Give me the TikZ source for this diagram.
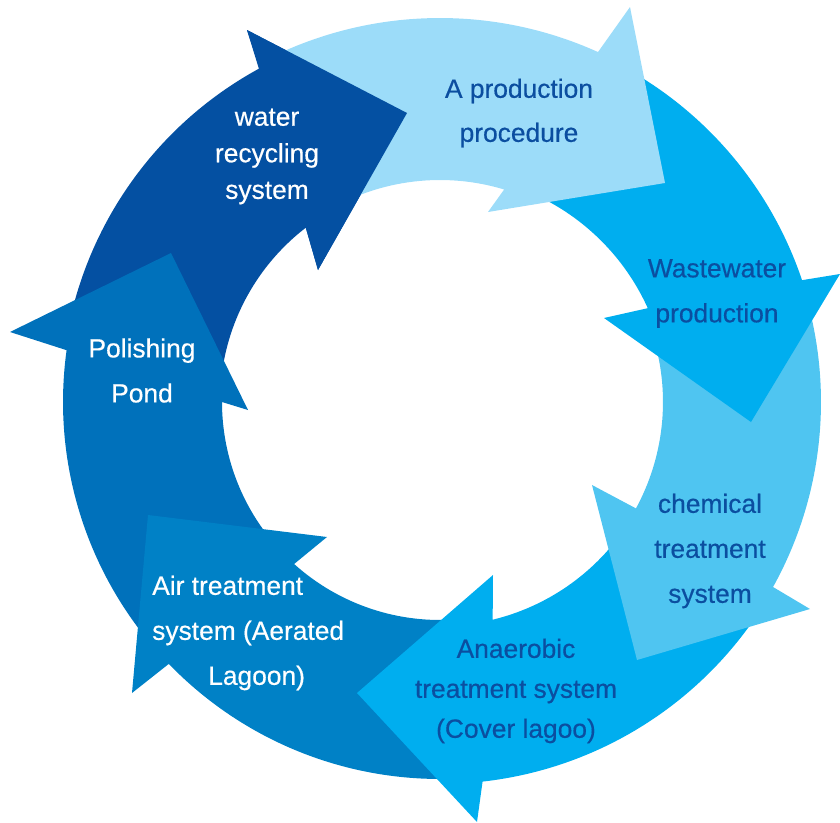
\documentclass[tikz,border=0pt]{standalone}
\usepackage{fontspec}
\setmainfont{Liberation Sans}
\newfontfamily\lblfont[FakeBold=0.45]{Liberation Sans}
\usetikzlibrary{calc}
\definecolor{cL}{HTML}{9CDCF9}
\definecolor{cW}{HTML}{00AEEF}
\definecolor{cC}{HTML}{4FC5F1}
\definecolor{cA}{HTML}{00AEEF}
\definecolor{cR}{HTML}{0081C6}
\definecolor{cP}{HTML}{0071BB}
\definecolor{cD}{HTML}{0450A2}
\definecolor{txtblue}{HTML}{0B4EA0}
\begin{document}
\begin{tikzpicture}[x=0.3mm,y=-0.3mm,
  lbl/.style={align=center, inner sep=0pt},
  darktxt/.style={lbl, text=txtblue},
  whitetxt/.style={lbl, text=white}]
\useasboundingbox (0,0) rectangle (840,823);
\coordinate (O) at (440,402);
% water recycling system (dark)
\fill[cD] ($(O)+(190.95:379)$) arc[start angle=190.95, end angle=241.5, radius=380]
  -- (247,30) -- (407,113) -- (318,270)
  -- ($(O)+(232.4:220)$) arc[start angle=232.4, end angle=188.5, radius=220] -- cycle;
% polishing pond
\fill[cP] ($(O)+(139.5:377)$) arc[start angle=139.5, end angle=187.9, radius=377]
  -- (10,332) -- (171,253) -- (248,410)
  -- ($(O)+(180:218)$) arc[start angle=180, end angle=136.2, radius=218] -- cycle;
% air treatment
\fill[cR] ($(O)+(86.2:377)$) arc[start angle=86.2, end angle=136, radius=377]
  -- (132,693) -- (148,515) -- (327,537)
  -- ($(O)+(132:218)$) arc[start angle=132, end angle=84.8, radius=218] -- cycle;
% anaerobic
\fill[cA] ($(O)+(30.3:382)$) arc[start angle=30.3, end angle=83.6, radius=382]
  -- (477,822) -- (357,693) -- (493,575)
  -- ($(O)+(76.4:224)$) arc[start angle=76.4, end angle=34.7, radius=224] -- cycle;
% chemical
\fill[cC] ($(O)+(-15.8:381)$) arc[start angle=-15.8, end angle=29.05, radius=381]
  -- (810,609) -- (637,660) -- (592,485)
  -- ($(O)+(28.5:223)$) arc[start angle=28.5, end angle=-16.1, radius=223] -- cycle;
% wastewater
\fill[cW] ($(O)+(-62.2:382)$) arc[start angle=-62.2, end angle=-18.6, radius=382]
  -- (840,274) -- (751,422) -- (604,318)
  -- ($(O)+(-24.3:228)$) arc[start angle=-24.3, end angle=-66, radius=228] -- cycle;
% production procedure (light)
\fill[cL] ($(O)+(-117.1:384)$) arc[start angle=-117.1, end angle=-65.7, radius=384]
  -- (630,7) -- (665,183) -- (488,212)
  -- ($(O)+(-73.2:222)$) arc[start angle=-73.2, end angle=-120.5, radius=222] -- cycle;
% head of water recycling over light tail
\fill[cD] ($(O)+(241.5:380)$) -- (247,30) -- (407,113) -- (318,270) -- ($(O)+(232.4:220)$) -- cycle;
% labels
\node[darktxt, font=\lblfont\fontsize{22.5}{37.6}\selectfont] (tL) at (519,113) {A production\\procedure};
\node[darktxt, font=\lblfont\fontsize{22.5}{38.4}\selectfont] (tW) at (717,293.5) {Wastewater\\production};
\node[darktxt, font=\lblfont\fontsize{22.5}{38.4}\selectfont] (tC) at (710,551) {chemical\\treatment\\system};
\node[darktxt, font=\lblfont\fontsize{22.5}{34.1}\selectfont] (tA) at (516,691) {Anaerobic\\treatment system\\(Cover lagoo)};
\node[whitetxt, align=left, anchor=west, font=\lblfont\fontsize{22.5}{38.4}\selectfont] (tR) at (152,633) {Air treatment\\system (Aerated\\\hspace*{47.8pt}Lagoon)};
\node[whitetxt, font=\lblfont\fontsize{22.5}{38.4}\selectfont] (tP) at (142,370.5) {Polishing\\Pond};
\node[whitetxt, font=\lblfont\fontsize{22.5}{31.2}\selectfont] (tD) at (267,156.5) {water\\recycling\\system};
\end{tikzpicture}
\end{document}
